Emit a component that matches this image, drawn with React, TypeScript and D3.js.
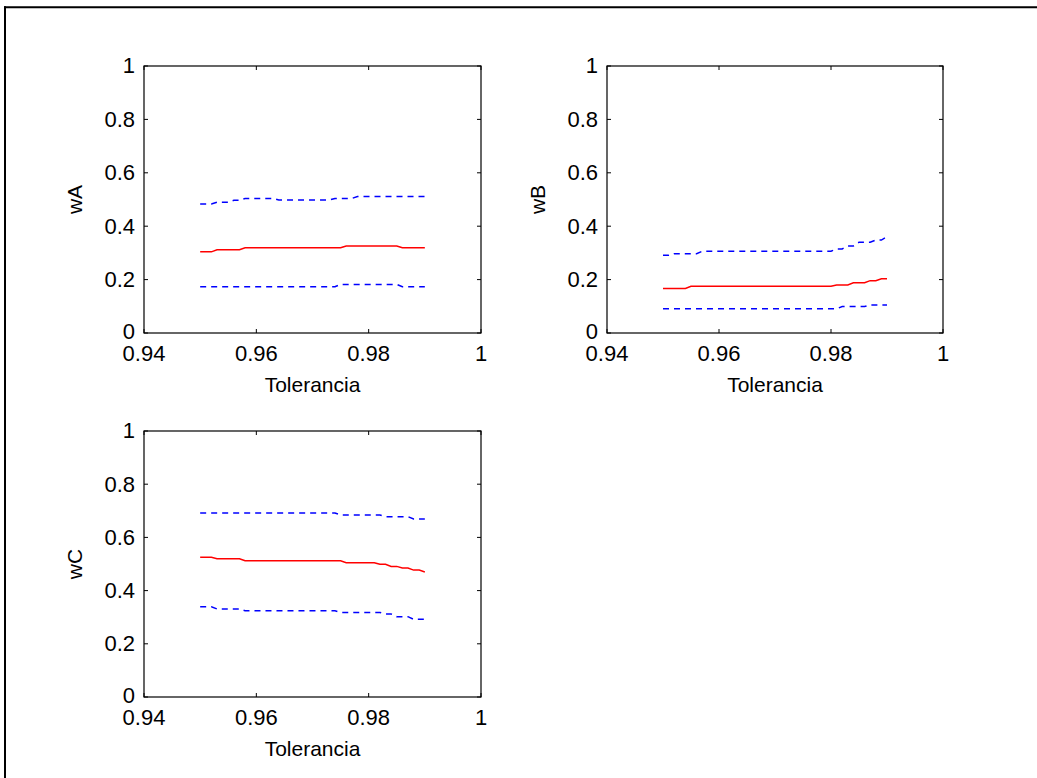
import React from 'react';
import * as d3 from 'd3';

// tolerance values (x axis), step 0.001
const tolerance = [
  0.950, 0.951, 0.952, 0.953, 0.954, 0.955, 0.956, 0.957, 0.958, 0.959,
  0.960, 0.961, 0.962, 0.963, 0.964, 0.965, 0.966, 0.967, 0.968, 0.969,
  0.970, 0.971, 0.972, 0.973, 0.974, 0.975, 0.976, 0.977, 0.978, 0.979,
  0.980, 0.981, 0.982, 0.983, 0.984, 0.985, 0.986, 0.987, 0.988, 0.989,
  0.990,
];

const wAMean = [
  0.304, 0.304, 0.304, 0.312, 0.312, 0.312, 0.312, 0.312, 0.319, 0.319,
  0.319, 0.319, 0.319, 0.319, 0.319, 0.319, 0.319, 0.319, 0.319, 0.319,
  0.319, 0.319, 0.319, 0.319, 0.319, 0.319, 0.326, 0.326, 0.326, 0.326,
  0.326, 0.326, 0.326, 0.326, 0.326, 0.326, 0.319, 0.319, 0.319, 0.319,
  0.319,
];
const wAUpper = [
  0.483, 0.483, 0.483, 0.490, 0.490, 0.490, 0.497, 0.497, 0.504, 0.504,
  0.504, 0.504, 0.504, 0.504, 0.498, 0.498, 0.498, 0.498, 0.498, 0.498,
  0.498, 0.498, 0.498, 0.498, 0.504, 0.504, 0.504, 0.504, 0.511, 0.511,
  0.511, 0.511, 0.511, 0.511, 0.511, 0.511, 0.511, 0.511, 0.511, 0.511,
  0.511,
];
const wALower = [
  0.173, 0.173, 0.173, 0.173, 0.173, 0.173, 0.173, 0.173, 0.173, 0.173,
  0.173, 0.173, 0.173, 0.173, 0.173, 0.173, 0.173, 0.173, 0.173, 0.173,
  0.173, 0.173, 0.173, 0.173, 0.173, 0.182, 0.182, 0.182, 0.182, 0.182,
  0.182, 0.182, 0.182, 0.182, 0.182, 0.182, 0.173, 0.173, 0.173, 0.173,
  0.173,
];

const wBMean = [
  0.167, 0.167, 0.167, 0.167, 0.167, 0.175, 0.175, 0.175, 0.175, 0.175,
  0.175, 0.175, 0.175, 0.175, 0.175, 0.175, 0.175, 0.175, 0.175, 0.175,
  0.175, 0.175, 0.175, 0.175, 0.175, 0.175, 0.175, 0.175, 0.175, 0.175,
  0.175, 0.180, 0.180, 0.180, 0.188, 0.188, 0.188, 0.196, 0.196, 0.203,
  0.203,
];
const wBUpper = [
  0.291, 0.291, 0.297, 0.297, 0.297, 0.297, 0.297, 0.306, 0.306, 0.306,
  0.306, 0.306, 0.306, 0.306, 0.306, 0.306, 0.306, 0.306, 0.306, 0.306,
  0.306, 0.306, 0.306, 0.306, 0.306, 0.306, 0.306, 0.306, 0.306, 0.306,
  0.306, 0.315, 0.315, 0.326, 0.326, 0.340, 0.340, 0.340, 0.348, 0.348,
  0.361,
];
const wBLower = [
  0.091, 0.091, 0.091, 0.091, 0.091, 0.091, 0.091, 0.091, 0.091, 0.091,
  0.091, 0.091, 0.091, 0.091, 0.091, 0.091, 0.091, 0.091, 0.091, 0.091,
  0.091, 0.091, 0.091, 0.091, 0.091, 0.091, 0.091, 0.091, 0.091, 0.091,
  0.091, 0.091, 0.099, 0.099, 0.099, 0.099, 0.099, 0.105, 0.105, 0.105,
  0.105,
];

const wCMean = [
  0.525, 0.525, 0.525, 0.520, 0.520, 0.520, 0.520, 0.520, 0.512, 0.512,
  0.512, 0.512, 0.512, 0.512, 0.512, 0.512, 0.512, 0.512, 0.512, 0.512,
  0.512, 0.512, 0.512, 0.512, 0.512, 0.512, 0.505, 0.505, 0.505, 0.505,
  0.505, 0.505, 0.499, 0.499, 0.491, 0.491, 0.485, 0.485, 0.477, 0.477,
  0.470,
];
const wCUpper = [
  0.692, 0.692, 0.692, 0.692, 0.692, 0.692, 0.692, 0.692, 0.692, 0.692,
  0.692, 0.692, 0.692, 0.692, 0.692, 0.692, 0.692, 0.692, 0.692, 0.692,
  0.692, 0.692, 0.692, 0.692, 0.692, 0.684, 0.684, 0.684, 0.684, 0.684,
  0.684, 0.684, 0.684, 0.678, 0.678, 0.678, 0.678, 0.678, 0.669, 0.669,
  0.669,
];
const wCLower = [
  0.339, 0.339, 0.339, 0.331, 0.331, 0.331, 0.331, 0.331, 0.324, 0.324,
  0.324, 0.324, 0.324, 0.324, 0.324, 0.324, 0.324, 0.324, 0.324, 0.324,
  0.324, 0.324, 0.324, 0.324, 0.324, 0.318, 0.318, 0.318, 0.318, 0.318,
  0.318, 0.318, 0.318, 0.312, 0.312, 0.302, 0.302, 0.302, 0.292, 0.292,
  0.292,
];

const xTicks = [0.94, 0.96, 0.98, 1];
const xTickLabels = ['0.94', '0.96', '0.98', '1'];
const yTicks = [0, 0.2, 0.4, 0.6, 0.8, 1];
const yTickLabels = ['0', '0.2', '0.4', '0.6', '0.8', '1'];

const W = 1037;
const H = 778;
const FONT = '"Liberation Sans", Arial, sans-serif';
const TICK = 4;

type PanelProps = {
  left: number;
  top: number;
  width: number;
  height: number;
  yLabel: string;
  mean: number[];
  upper: number[];
  lower: number[];
};

const Panel = ({ left, top, width, height, yLabel, mean, upper, lower }: PanelProps) => {
  const x = d3.scaleLinear().domain([0.94, 1]).range([left, left + width]);
  const y = d3.scaleLinear().domain([0, 1]).range([top + height, top]);
  const line = d3.line<number>()
    .x((d, i) => x(tolerance[i]))
    .y(d => y(d));
  const bottom = top + height;
  const right = left + width;

  return (
    <g>
      <path d={line(upper) || ''} fill="none" stroke="#0000ff" strokeWidth={1.5} strokeDasharray="6,5" />
      <path d={line(lower) || ''} fill="none" stroke="#0000ff" strokeWidth={1.5} strokeDasharray="6,5" />
      <path d={line(mean) || ''} fill="none" stroke="#ff0000" strokeWidth={1.5} />

      <rect x={left} y={top} width={width} height={height} fill="none" stroke="#000" strokeWidth={1.2} />

      {xTicks.map((t, i) => (
        <g key={'x' + i}>
          <line x1={x(t)} x2={x(t)} y1={bottom} y2={bottom - TICK} stroke="#000" />
          <line x1={x(t)} x2={x(t)} y1={top} y2={top + TICK} stroke="#000" />
          <text x={x(t)} y={bottom + 28} textAnchor="middle" fontSize={22} fill="#000">{xTickLabels[i]}</text>
        </g>
      ))}
      {yTicks.map((t, i) => (
        <g key={'y' + i}>
          <line x1={left} x2={left + TICK} y1={y(t)} y2={y(t)} stroke="#000" />
          <line x1={right} x2={right - TICK} y1={y(t)} y2={y(t)} stroke="#000" />
          <text x={left - 9} y={y(t)} dy={i === 0 ? '0.28em' : '0.34em'} textAnchor="end" fontSize={22} fill="#000">{yTickLabels[i]}</text>
        </g>
      ))}

      <text x={(left + right) / 2} y={bottom + 59} textAnchor="middle" fontSize={21} fill="#000">Tolerancia</text>
      <text
        transform={`translate(${left - 62},${(top + bottom) / 2}) rotate(-90)`}
        textAnchor="middle"
        fontSize={21}
        fill="#000"
      >
        {yLabel}
      </text>
    </g>
  );
};

export default function App() {
  return (
    <div style={{ position: 'fixed', left: 0, top: 0, width: W, height: H, background: '#fff' }}>
      <svg width={W} height={H} style={{ display: 'block', fontFamily: FONT }}>
        <rect x={0} y={0} width={W} height={H} fill="#fff" />
        {/* outer figure frame (only top and left edges fall inside the picture) */}
        <line x1={4} x2={W} y1={7.3} y2={7.3} stroke="#000" strokeWidth={2} />
        <line x1={5} x2={5} y1={6.3} y2={H} stroke="#000" strokeWidth={2} />

        <Panel left={144} top={66} width={337} height={267} yLabel="wA" mean={wAMean} upper={wAUpper} lower={wALower} />
        <Panel left={607} top={66} width={336} height={267} yLabel="wB" mean={wBMean} upper={wBUpper} lower={wBLower} />
        <Panel left={144} top={431} width={337} height={266} yLabel="wC" mean={wCMean} upper={wCUpper} lower={wCLower} />
      </svg>
    </div>
  );
}
